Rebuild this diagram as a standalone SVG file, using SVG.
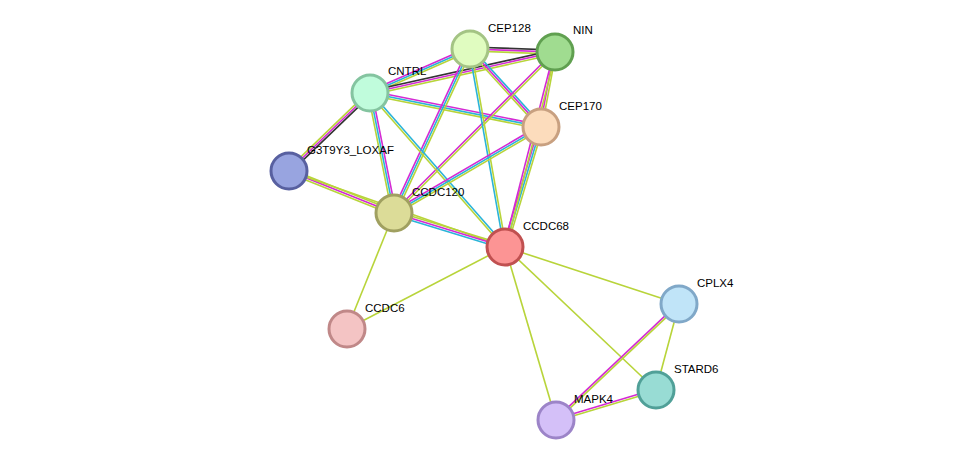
<svg xmlns="http://www.w3.org/2000/svg" width="975" height="466" viewBox="0 0 975 466">
<style>
.y{stroke:#b8d43a;stroke-width:1.6}.m{stroke:#d42ad4;stroke-width:1.6}.c{stroke:#2ab4d8;stroke-width:1.6}.k{stroke:#333;stroke-width:1.6}
circle{stroke-width:3}
text{font-family:"Liberation Sans",Arial,sans-serif;font-size:11.5px;fill:#000}
</style>
<rect width="975" height="466" fill="#fff"/>
<g id="edges">
<line class="k" x1="470" y1="47" x2="555" y2="50"/><line class="m" x1="470" y1="49" x2="555" y2="52"/><line class="y" x1="470" y1="51" x2="555" y2="54"/>
<line class="m" x1="469.2" y1="47.2" x2="369.2" y2="91.2"/><line class="c" x1="470" y1="49" x2="370" y2="93"/><line class="y" x1="470.8" y1="50.8" x2="370.8" y2="94.8"/>
<line class="k" x1="554.6" y1="50" x2="369.6" y2="91"/><line class="m" x1="555" y1="52" x2="370" y2="93"/><line class="y" x1="555.4" y1="54" x2="370.4" y2="95"/>
<line class="m" x1="370.4" y1="91" x2="541.4" y2="125"/><line class="c" x1="370" y1="93" x2="541" y2="127"/><line class="y" x1="369.6" y1="95" x2="540.6" y2="129"/>
<line class="c" x1="471.5" y1="47.7" x2="542.5" y2="125.7"/><line class="m" x1="470" y1="49" x2="541" y2="127"/><line class="y" x1="468.5" y1="50.3" x2="539.5" y2="128.3"/>
<line class="m" x1="554" y1="51.8" x2="540" y2="126.8"/><line class="y" x1="556" y1="52.2" x2="542" y2="127.2"/>
<line class="m" x1="468.2" y1="48.2" x2="392.2" y2="212.2"/><line class="c" x1="470" y1="49" x2="394" y2="213"/><line class="y" x1="471.8" y1="49.8" x2="395.8" y2="213.8"/>
<line class="m" x1="554.3" y1="51.3" x2="393.3" y2="212.3"/><line class="y" x1="555.7" y1="52.7" x2="394.7" y2="213.7"/>
<line class="c" x1="469" y1="49.2" x2="504" y2="247.2"/><line class="y" x1="471" y1="48.8" x2="506" y2="246.8"/>
<line class="y" x1="368" y1="93.4" x2="392" y2="213.4"/><line class="c" x1="370" y1="93" x2="394" y2="213"/><line class="m" x1="372" y1="92.6" x2="396" y2="212.6"/>
<line class="c" x1="370.75" y1="92.3" x2="505.75" y2="246.3"/><line class="y" x1="369.25" y1="93.7" x2="504.25" y2="247.7"/>
<line class="y" x1="368.6" y1="91.6" x2="287.6" y2="169.6"/><line class="m" x1="370" y1="93" x2="289" y2="171"/><line class="k" x1="371.4" y1="94.4" x2="290.4" y2="172.4"/>
<line class="m" x1="540" y1="125.3" x2="393" y2="211.3"/><line class="c" x1="541" y1="127" x2="394" y2="213"/><line class="y" x1="542" y1="128.7" x2="395" y2="214.7"/>
<line class="m" x1="539.1" y1="126.4" x2="503.1" y2="246.4"/><line class="c" x1="541" y1="127" x2="505" y2="247"/><line class="y" x1="542.9" y1="127.6" x2="506.9" y2="247.6"/>
<line class="m" x1="554" y1="51.75" x2="504" y2="246.75"/><line class="y" x1="556" y1="52.25" x2="506" y2="247.25"/>
<line class="y" x1="289.7" y1="169.1" x2="394.7" y2="211.1"/><line class="m" x1="289" y1="171" x2="394" y2="213"/><line class="y" x1="288.3" y1="172.9" x2="393.3" y2="214.9"/>
<line class="y" x1="289" y1="171" x2="505" y2="247"/>
<line class="y" x1="394.6" y1="211.1" x2="505.6" y2="245.1"/><line class="m" x1="394" y1="213" x2="505" y2="247"/><line class="c" x1="393.4" y1="214.9" x2="504.4" y2="248.9"/>
<line class="y" x1="394" y1="213" x2="347" y2="329"/>
<line class="y" x1="505" y1="247" x2="347" y2="329"/>
<line class="y" x1="505" y1="247" x2="679" y2="304"/>
<line class="y" x1="505" y1="247" x2="656" y2="390"/>
<line class="y" x1="505" y1="247" x2="556" y2="420"/>
<line class="y" x1="679" y1="304" x2="656" y2="390"/>
<line class="m" x1="678.3" y1="303.3" x2="555.3" y2="419.3"/><line class="y" x1="679.7" y1="304.7" x2="556.7" y2="420.7"/>
<line class="m" x1="655.7" y1="389" x2="555.7" y2="419"/><line class="y" x1="656.3" y1="391" x2="556.3" y2="421"/>
</g>
<g id="CEP128"><circle cx="470" cy="49" r="18" fill="#e0fcc0" stroke="#a4c484"/><text x="488" y="32">CEP128</text></g>
<g id="NIN"><circle cx="555" cy="52" r="18" fill="#a0dc90" stroke="#60a050"/><text x="573" y="34">NIN</text></g>
<g id="CNTRL"><circle cx="370" cy="93" r="18" fill="#c0fcdc" stroke="#84c4a0"/><text x="388" y="75">CNTRL</text></g>
<g id="CEP170"><circle cx="541" cy="127" r="18" fill="#fcdcbc" stroke="#c8a080"/><text x="559" y="110">CEP170</text></g>
<g id="G3T9Y3_LOXAF"><circle cx="289" cy="171" r="18" fill="#98a4e0" stroke="#5860a0"/><text x="307" y="154">G3T9Y3_LOXAF</text></g>
<g id="CCDC120"><circle cx="394" cy="213" r="18" fill="#dcdc98" stroke="#a0a060"/><text x="412" y="196">CCDC120</text></g>
<g id="CCDC68"><circle cx="505" cy="247" r="18" fill="#fc9494" stroke="#c05050"/><text x="523" y="230">CCDC68</text></g>
<g id="CCDC6"><circle cx="347" cy="329" r="18" fill="#f4c4c4" stroke="#c08888"/><text x="365" y="312">CCDC6</text></g>
<g id="CPLX4"><circle cx="679" cy="304" r="18" fill="#c0e4f8" stroke="#80a8c8"/><text x="697" y="287">CPLX4</text></g>
<g id="STARD6"><circle cx="656" cy="390" r="18" fill="#98dcd4" stroke="#50a098"/><text x="674" y="373">STARD6</text></g>
<g id="MAPK4"><circle cx="556" cy="420" r="18" fill="#d4c0f8" stroke="#9c84c8"/><text x="574" y="403">MAPK4</text></g>
</svg>
